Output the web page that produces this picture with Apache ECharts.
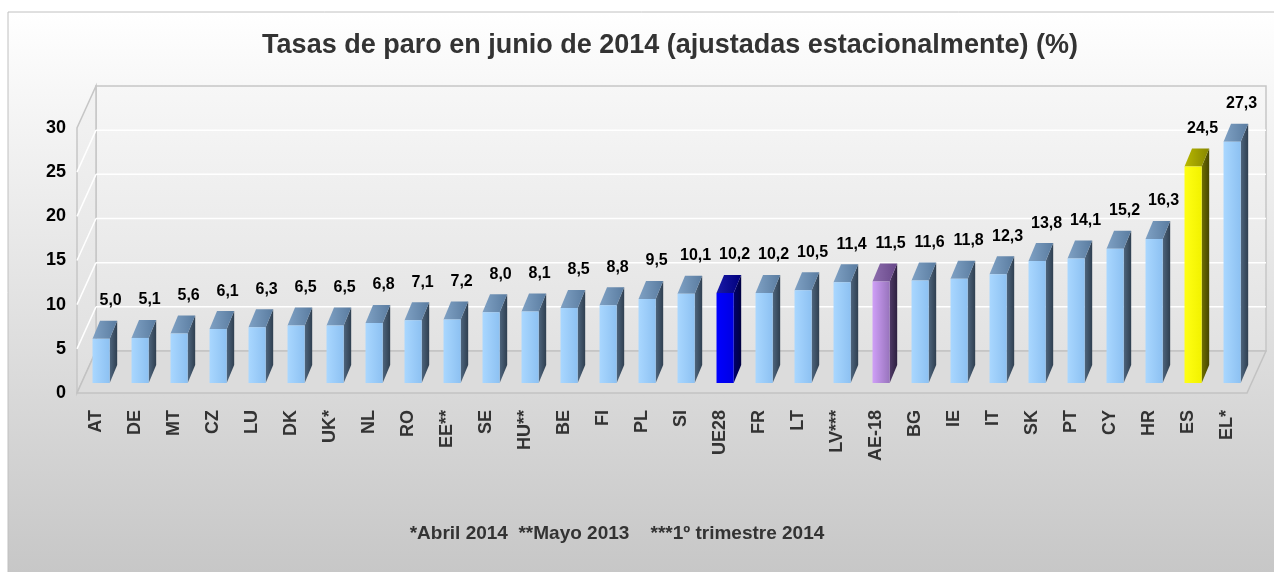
<!DOCTYPE html>
<html>
<head>
<meta charset="utf-8">
<script src="https://cdn.jsdelivr.net/npm/echarts@6/dist/echarts.min.js"></script>
<style>
  html, body { margin: 0; padding: 0; background: #fff; }
  #chart { width: 1274px; height: 572px; }
</style>
</head>
<body>
<div id="chart"></div>
<script>
// datos
var paises = ['AT', 'DE', 'MT', 'CZ', 'LU', 'DK', 'UK*', 'NL', 'RO', 'EE**', 'SE', 'HU**', 'BE', 'FI', 'PL',
    'SI', 'UE28', 'FR', 'LT', 'LV***', 'AE-18', 'BG', 'IE', 'IT', 'SK', 'PT', 'CY', 'HR', 'ES', 'EL*'];
var tasas = [5.0, 5.1, 5.6, 6.1, 6.3, 6.5, 6.5, 6.8, 7.1, 7.2, 8.0, 8.1, 8.5, 8.8, 9.5,
    10.1, 10.2, 10.2, 10.5, 11.4, 11.5, 11.6, 11.8, 12.3, 13.8, 14.1, 15.2, 16.3, 24.5, 27.3];
var yTicks = [0, 5, 10, 15, 20, 25, 30];

(function () {
    'use strict';
    var myChart = echarts.init(document.getElementById('chart'));

    // perspectiva 3D
    var WALL = [19, -42];      // profundidad de la pared del fondo
    var FRONT = [4.6, -10];    // desplazamiento de la cara frontal de la barra
    var DEPTH = [7.5, -18];    // profundidad de la barra

    var paletas = {
        normal: { front: ['#a9d7ff', '#8dc1f2'], top: ['#7fa1c4', '#5a7ca0'], side: ['#4e657d', '#2f3f50'] },
        ue: { front: ['#0000ff', '#0000e2'], top: ['#1a1aa8', '#00007c'], side: ['#00006e', '#000040'] },
        ae: { front: ['#cf9ff7', '#9874bd'], top: ['#8c6cad', '#684889'], side: ['#4f3a67', '#2d203f'] },
        es: { front: ['#ffff14', '#f2f200'], top: ['#b8b800', '#878700'], side: ['#707000', '#464600'] }
    };
    var destacados = { 'UE28': 'ue', 'AE-18': 'ae', 'ES': 'es' };

    function grad(c, vertical) {
        return new echarts.graphic.LinearGradient(0, 0, vertical ? 0 : 1, vertical ? 1 : 0, [
            { offset: 0, color: c[0] }, { offset: 1, color: c[1] }
        ]);
    }

    function renderBar(params, api) {
        var idx = api.value(0);
        var val = api.value(1);
        var pTop = api.coord([idx, val]);
        var pBase = api.coord([idx, 0]);
        var bw = api.size([1, 0])[0] * 0.44;
        var x0 = pTop[0] + FRONT[0] - bw / 2;
        var x1 = x0 + bw;
        var yT = pTop[1] + FRONT[1];
        var yB = pBase[1] + FRONT[1];
        var pal = paletas[destacados[paises[idx]] || 'normal'];
        return {
            type: 'group',
            children: [{
                type: 'polygon',
                shape: { points: [[x1, yT], [x1 + DEPTH[0], yT + DEPTH[1]], [x1 + DEPTH[0], yB + DEPTH[1]], [x1, yB]] },
                style: { fill: grad(pal.side, false) }
            }, {
                type: 'polygon',
                shape: { points: [[x0, yT], [x1, yT], [x1 + DEPTH[0], yT + DEPTH[1]], [x0 + DEPTH[0], yT + DEPTH[1]]] },
                style: { fill: grad(pal.top, false) }
            }, {
                type: 'rect',
                shape: { x: x0, y: yT, width: bw, height: yB - yT },
                style: { fill: grad(pal.front, false) }
            }, {
                type: 'text',
                x: (x0 + x1) / 2 + 9.5,
                y: yT + DEPTH[1] - 12,
                style: {
                    text: val.toFixed(1).replace('.', ','),
                    fill: '#000',
                    font: 'bold 16px "Liberation Sans", Arial, sans-serif',
                    align: 'center',
                    verticalAlign: 'bottom'
                }
            }]
        };
    }

    function renderWalls(params, api) {
        var cs = params.coordSys;
        var xL = cs.x, xR = cs.x + cs.width;
        var yB = api.coord([0, 0])[1];
        var yTop = api.coord([0, yTicks[yTicks.length - 1]])[1];
        var dx = WALL[0], dy = WALL[1];
        var kids = [];
        // pared del fondo
        kids.push({
            type: 'rect',
            shape: { x: xL + dx, y: yTop + dy, width: xR - xL, height: yB - yTop },
            style: {
                fill: new echarts.graphic.LinearGradient(0, 0, 0, 1, [
                    { offset: 0, color: '#f7f7f7' }, { offset: 1, color: '#e2e2e2' }
                ]),
                stroke: '#c6c6c6', lineWidth: 1.5
            }
        });
        // pared izquierda
        kids.push({
            type: 'polygon',
            shape: { points: [[xL, yB], [xL, yTop], [xL + dx, yTop + dy], [xL + dx, yB + dy]] },
            style: {
                fill: new echarts.graphic.LinearGradient(0, 0, 0, 1, [
                    { offset: 0, color: '#f3f3f3' }, { offset: 1, color: '#dedede' }
                ]),
                stroke: '#c6c6c6', lineWidth: 1.5
            }
        });
        yTicks.forEach(function (t) {
            if (t === 0 || t === yTicks[yTicks.length - 1]) return;
            var y = api.coord([0, t])[1];
            kids.push({
                type: 'line',
                shape: { x1: xL + dx, y1: y + dy, x2: xR + dx, y2: y + dy },
                style: { stroke: '#ffffff', lineWidth: 1.5 }
            });
            kids.push({
                type: 'line',
                shape: { x1: xL, y1: y, x2: xL + dx, y2: y + dy },
                style: { stroke: '#ffffff', lineWidth: 1.5 }
            });
        });
        // suelo
        kids.push({
            type: 'polygon',
            shape: { points: [[xL, yB], [xR, yB], [xR + dx, yB + dy], [xL + dx, yB + dy]] },
            style: { fill: '#dcdcdc', stroke: '#c2c2c2', lineWidth: 1.5 }
        });
        return { type: 'group', children: kids };
    }

    var option = {
        animation: false,
        graphic: [{
            type: 'rect',
            z: -10,
            shape: { x: 8, y: 12, width: 1300, height: 600 },
            style: {
                fill: new echarts.graphic.LinearGradient(0, 0, 0, 1, [
                    { offset: 0, color: '#ffffff' }, { offset: 1, color: '#c3c3c3' }
                ]),
                stroke: '#c0c0c0', lineWidth: 1
            }
        }, {
            type: 'text',
            x: 670,
            y: 46,
            style: {
                text: 'Tasas de paro en junio de 2014 (ajustadas estacionalmente) (%)',
                fill: '#333',
                font: 'bold 27px "Liberation Sans", Arial, sans-serif',
                align: 'center',
                verticalAlign: 'middle'
            }
        }, {
            type: 'text',
            x: 617,
            y: 534,
            style: {
                text: '*Abril 2014  **Mayo 2013    ***1º trimestre 2014',
                fill: '#333',
                font: 'bold 19px "Liberation Sans", Arial, sans-serif',
                align: 'center',
                verticalAlign: 'middle'
            }
        }],
        grid: {
            left: 77,
            top: 128,
            width: 1170,
            height: 265
        },
        xAxis: {
            type: 'category',
            data: paises,
            axisLine: { show: false },
            axisTick: { show: false },
            axisLabel: {
                rotate: 90,
                margin: 17,
                interval: 0,
                color: '#333',
                fontSize: 18,
                fontWeight: 'bold',
                fontFamily: '"Liberation Sans", Arial, sans-serif'
            }
        },
        yAxis: {
            type: 'value',
            min: 0,
            max: 30,
            interval: 5,
            axisLine: { show: false },
            axisTick: { show: false },
            splitLine: { show: false },
            axisLabel: {
                margin: 11,
                color: '#000',
                fontSize: 18,
                fontWeight: 'bold',
                fontFamily: '"Liberation Sans", Arial, sans-serif'
            }
        },
        series: [{
            type: 'custom',
            name: 'paredes',
            z: 1,
            silent: true,
            renderItem: renderWalls,
            data: [[0, 0]]
        }, {
            type: 'custom',
            name: 'Tasa de paro',
            z: 2,
            renderItem: renderBar,
            encode: { x: 0, y: 1 },
            data: tasas.map(function (v, i) { return [i, v]; })
        }]
    };
    myChart.setOption(option);
    window.addEventListener('resize', function () {
        myChart.resize();
    });
})();
</script>
</body>
</html>
